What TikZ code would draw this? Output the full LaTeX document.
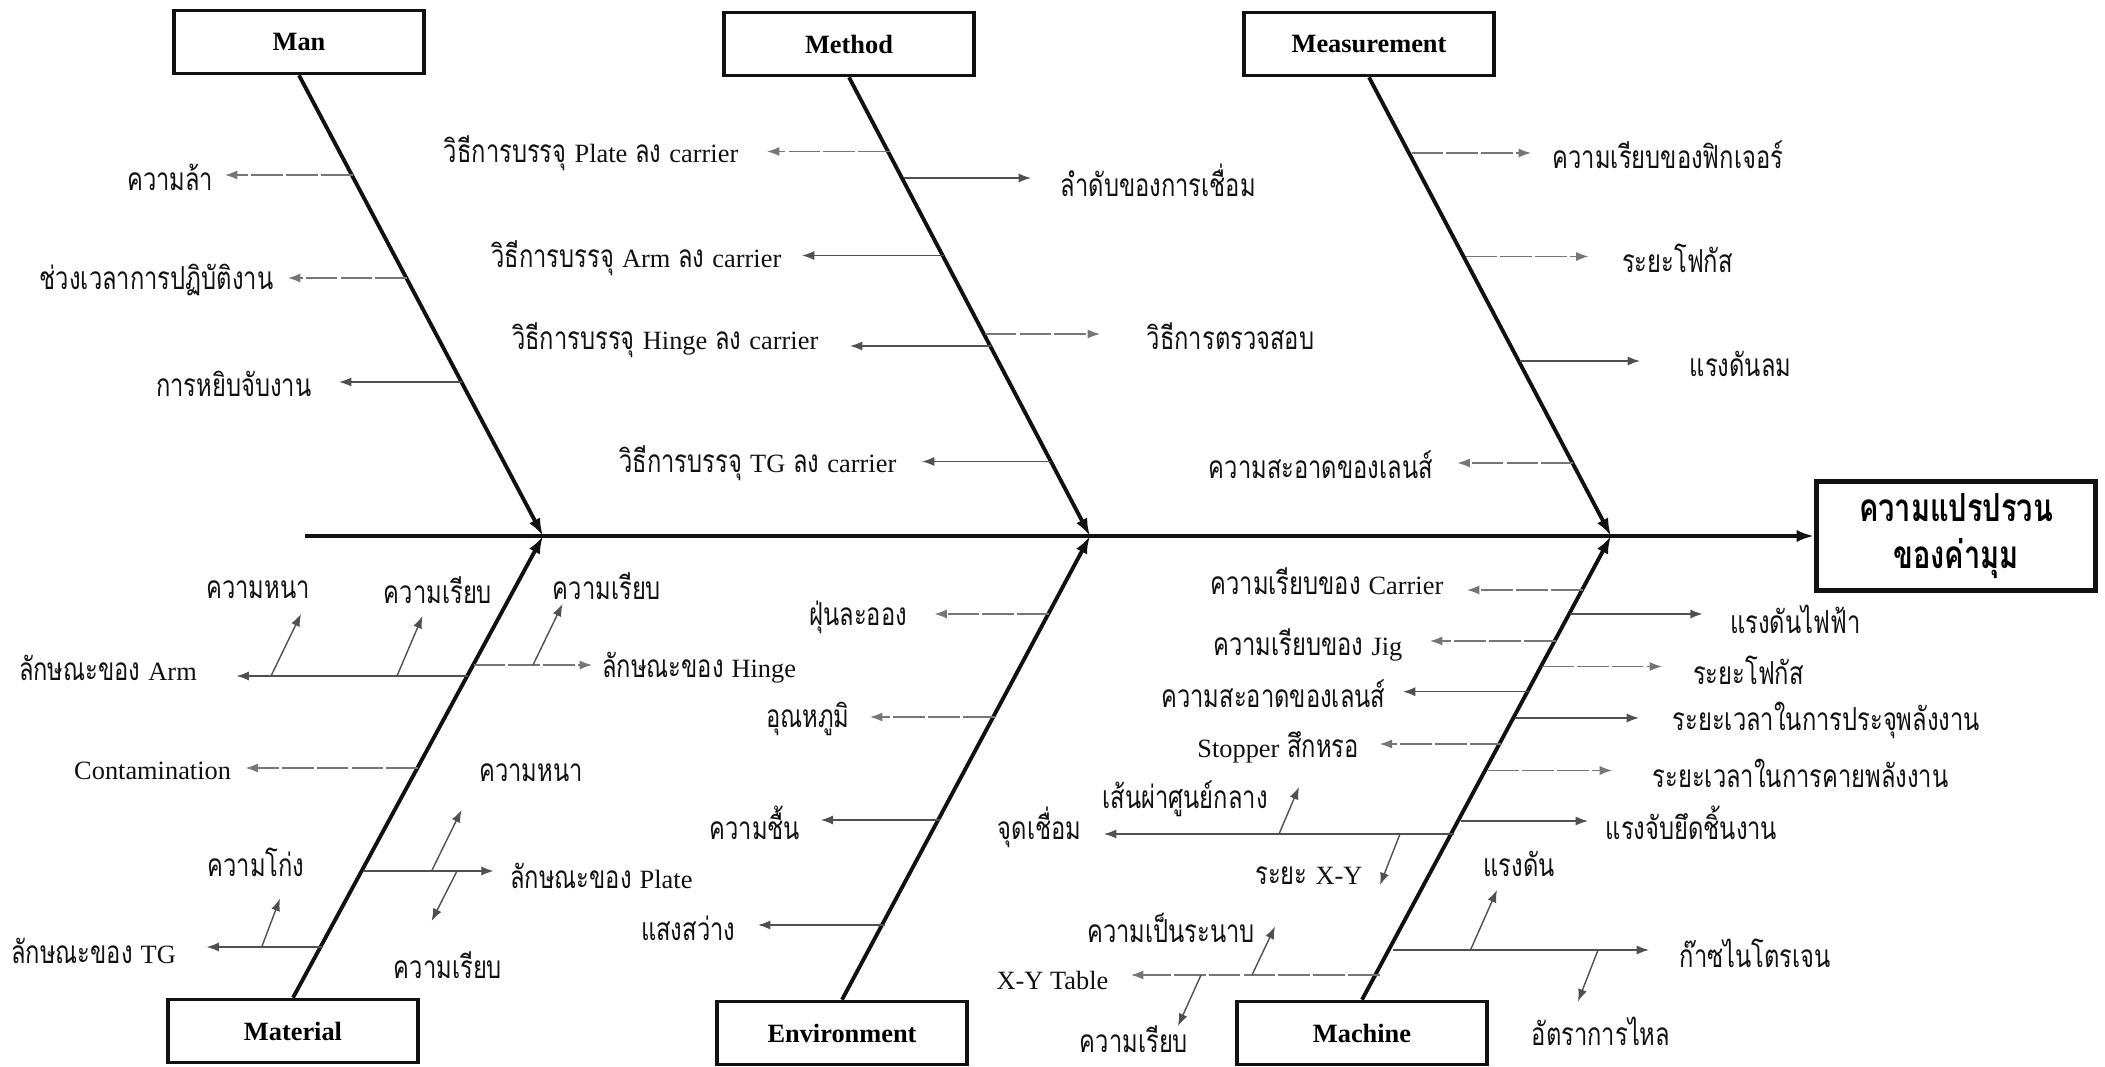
\documentclass[tikz,border=0pt]{standalone}
\usepackage{fontspec}
\setmainfont{Liberation Serif}
\newfontfamily\thaifont[Script=Thai,FakeStretch=0.75]{Loma}
\newcommand{\lat}[1]{{\rmfamily\fontsize{7.5}{9}\selectfont #1}}
\usetikzlibrary{arrows.meta}
\definecolor{ink}{HTML}{111111}
\definecolor{branchgray}{HTML}{505050}
\definecolor{paler}{HTML}{767676}

\begin{document}
\begin{tikzpicture}[x=0.01cm,y=-0.01cm,
    cat/.style={draw=ink,line width=1pt,minimum width=2.5cm,minimum height=0.63cm,
      font=\rmfamily\bfseries\fontsize{7.5}{9}\selectfont},
    bone/.style={ink,line width=1.1pt,-{Latex[length=5pt,width=3.5pt]}},
    twig/.style={branchgray,line width=0.4pt,-{Latex[length=3.5pt,width=2.6pt]}},
    faint/.style={paler,dash pattern=on 9pt off 0.9pt},
    lbl/.style={font=\thaifont\fontsize{9}{11}\selectfont,text=ink,inner sep=0pt},
    gap/.style={inner xsep=#1*0.2845pt}]
  \useasboundingbox (0,0) rectangle (2105,1067);

  \node[cat] (man) at (299,42) {Man};
  \node[cat] (method) at (849,44) {Method};
  \node[cat] (meas) at (1369,44) {Measurement};
  \node[cat] (mat) at (293,1031) {Material};
  \node[cat] (env) at (842,1033) {Environment};
  \node[cat] (mach) at (1362,1033) {Machine};
  \node[draw=ink,line width=1.3pt,minimum width=2.79cm,minimum height=1.08cm,align=center,
    font=\thaifont\bfseries\fontsize{11}{13.4}\selectfont] (effect) at (1956,536)
    {ความแปรปรวน\\ของค่ามุม};

  \coordinate (tail) at (305,536);
  \coordinate (j1) at (543,536);
  \coordinate (j2) at (1090,536);
  \coordinate (j3) at (1611,536);
  \draw[bone] (tail) -- (effect.west);
  \draw[bone] (man.south) -- (j1);
  \draw[bone] (method.south) -- (j2);
  \draw[bone] (meas.south) -- (j3);
  \draw[bone] (mat.north) -- (j1);
  \draw[bone] (env.north) -- (j2);
  \draw[bone] (mach.north) -- (j3);

  % Man
  \coordinate (a1) at (352.7,175);
  \coordinate (a2) at (407,278);
  \coordinate (a3) at (461.8,382);
  \node[lbl,gap=11,anchor=east] (fatigue) at (225,177) {ความล้า};
  \node[lbl,gap=14,anchor=east] (worktime) at (288,280) {ช่วงเวลาการปฏิบัติงาน};
  \node[lbl,gap=27,anchor=east] (handling) at (339,384) {การหยิบจับงาน};
  \draw[twig,faint] (a1) -- (fatigue.east |- a1);
  \draw[twig,faint] (a2) -- (worktime.east |- a2);
  \draw[twig] (a3) -- (handling.east |- a3);

  % Method
  \coordinate (b1) at (889.8,151.5);
  \coordinate (b2) at (903.6,178);
  \coordinate (b3) at (944,255.5);
  \coordinate (b4) at (984.8,334);
  \coordinate (b5) at (991,346);
  \coordinate (b6) at (1051,461.5);
  \node[lbl,gap=28,anchor=east] (loadplate) at (767,153) {วิธีการบรรจุ \lat{Plate} ลง \lat{carrier}};
  \node[lbl,gap=29,anchor=west] (weldorder) at (1031,180) {ลำดับของการเชื่อม};
  \node[lbl,gap=20,anchor=east] (loadarm) at (802,258) {วิธีการบรรจุ \lat{Arm} ลง \lat{carrier}};
  \node[lbl,gap=46,anchor=west] (inspect) at (1100,336) {วิธีการตรวจสอบ};
  \node[lbl,gap=31,anchor=east] (loadhinge) at (850,340) {วิธีการบรรจุ \lat{Hinge} ลง \lat{carrier}};
  \node[lbl,gap=25,anchor=east] (loadtg) at (922,463) {วิธีการบรรจุ \lat{TG} ลง \lat{carrier}};
  \draw[twig,faint] (b1) -- (loadplate.east |- b1);
  \draw[twig] (b2) -- (weldorder.west |- b2);
  \draw[twig] (b3) -- (loadarm.east |- b3);
  \draw[twig,faint] (b4) -- (inspect.west |- b4);
  \draw[twig] (b5) -- (loadhinge.east |- b5);
  \draw[twig] (b6) -- (loadtg.east |- b6);

  % Measurement
  \coordinate (c1) at (1411.6,153);
  \coordinate (c2) at (1465.5,256.5);
  \coordinate (c3) at (1519.9,361);
  \coordinate (c4) at (1573,463);
  \node[lbl,gap=21,anchor=west] (fixflat) at (1531,155) {ความเรียบของฟิกเจอร์};
  \node[lbl,gap=33,anchor=west] (focusa) at (1588.5,258) {ระยะโฟกัส};
  \node[lbl,gap=49,anchor=west] (airpress) at (1640,364) {แรงดันลม};
  \node[lbl,gap=24,anchor=east] (lensa) at (1457.5,465) {ความสะอาดของเลนส์};
  \draw[twig,faint] (c1) -- (fixflat.west |- c1);
  \draw[twig,faint] (c2) -- (focusa.west |- c2);
  \draw[twig] (c3) -- (airpress.west |- c3);
  \draw[twig,faint] (c4) -- (lensa.east |- c4);

  % Material
  \coordinate (d1) at (467.6,676);
  \coordinate (d2) at (473.5,665);
  \coordinate (d3) at (418,768);
  \coordinate (d4) at (362.5,871);
  \coordinate (d5) at (321.5,947);
  \coordinate (d1a) at (271,676);
  \coordinate (d1b) at (397,676);
  \coordinate (d2a) at (533,665);
  \coordinate (d4a) at (431.6,871);
  \coordinate (d4b) at (457,871);
  \coordinate (d5a) at (261.7,947);
  \coordinate (d1at) at (301,614);
  \coordinate (d1bt) at (422.5,616);
  \coordinate (d2at) at (562.5,604);
  \coordinate (d4at) at (461.5,810);
  \coordinate (d4bt) at (431.6,921);
  \coordinate (d5at) at (280,898.6);
  \node[lbl,gap=39,anchor=east] (arm) at (236.5,668) {ลักษณะของ \lat{Arm}};
  \node[lbl,gap=9.5,anchor=west] (hinge) at (592,668) {ลักษณะของ \lat{Hinge}};
  \node[lbl,gap=14,anchor=east] (contam) at (245.7,771) {\lat{Contamination}};
  \node[lbl,gap=16,anchor=west] (plate) at (493.6,876) {ลักษณะของ \lat{Plate}};
  \node[lbl,gap=30,anchor=east] (tg) at (206.6,951) {ลักษณะของ \lat{TG}};
  \node[lbl] (armthick) at (258,590) {ความหนา};
  \node[lbl] (armflat) at (438,590) {ความเรียบ};
  \node[lbl] (hingeflat) at (607,586) {ความเรียบ};
  \node[lbl] (platethick) at (531,773) {ความหนา};
  \node[lbl] (plateflat) at (448,965) {ความเรียบ};
  \node[lbl] (tgbend) at (256,862) {ความโก่ง};
  \draw[twig] (d1) -- (arm.east |- d1);
  \draw[twig,faint] (d2) -- (hinge.west |- d2);
  \draw[twig,faint] (d3) -- (contam.east |- d3);
  \draw[twig] (d4) -- (plate.west |- d4);
  \draw[twig] (d5) -- (tg.east |- d5);
  \draw[twig] (d1a) -- (d1at);
  \draw[twig] (d1b) -- (d1bt);
  \draw[twig] (d2a) -- (d2at);
  \draw[twig] (d4a) -- (d4at);
  \draw[twig] (d4b) -- (d4bt);
  \draw[twig] (d5a) -- (d5at);

  % Environment
  \coordinate (e1) at (1048.9,614);
  \coordinate (e2) at (994.6,717);
  \coordinate (e3) at (940.4,820);
  \coordinate (e4) at (885,925);
  \node[lbl,gap=27,anchor=east] (dust) at (934.6,617) {ฝุ่นละออง};
  \node[lbl,gap=20,anchor=east] (temp) at (870,719) {อุณหภูมิ};
  \node[lbl,gap=20,anchor=east] (humid) at (820.8,823) {ความชื้น};
  \node[lbl,gap=22,anchor=east] (light) at (758,928) {แสงสว่าง};
  \draw[twig,faint] (e1) -- (dust.east |- e1);
  \draw[twig,faint] (e2) -- (temp.east |- e2);
  \draw[twig] (e3) -- (humid.east |- e3);
  \draw[twig] (e4) -- (light.east |- e4);

  % Machine
  \coordinate (f1) at (1582.6,590);
  \coordinate (f2) at (1569.9,614);
  \coordinate (f3) at (1555.7,641);
  \coordinate (f4) at (1542.2,666.5);
  \coordinate (f5) at (1529,691.7);
  \coordinate (f6) at (1515,718);
  \coordinate (f7) at (1501.4,744);
  \coordinate (f8) at (1487.5,770.5);
  \coordinate (f9) at (1460.8,821);
  \coordinate (f10) at (1454,834);
  \coordinate (f11) at (1392.9,950);
  \coordinate (f12) at (1379.7,975);
  \coordinate (f10a) at (1279,834);
  \coordinate (f10b) at (1400,834);
  \coordinate (f11a) at (1470.5,950);
  \coordinate (f11b) at (1598,950);
  \coordinate (f12a) at (1252,975);
  \coordinate (f12b) at (1201,975);
  \coordinate (f10at) at (1299,787);
  \coordinate (f10bt) at (1380,885);
  \coordinate (f11at) at (1497,890);
  \coordinate (f11bt) at (1578,1001.5);
  \coordinate (f12at) at (1275,926.5);
  \coordinate (f12bt) at (1178,1026);
  \node[lbl,gap=23,anchor=east] (carrier) at (1467,581) {ความเรียบของ \lat{Carrier}};
  \node[lbl,gap=27,anchor=west] (volt) at (1702.6,619) {แรงดันไฟฟ้า};
  \node[lbl,gap=27,anchor=east] (jig) at (1430,645) {ความเรียบของ \lat{Jig}};
  \node[lbl,gap=30.5,anchor=west] (focusb) at (1662,670) {ระยะโฟกัส};
  \node[lbl,gap=17,anchor=east] (lensb) at (1403,694) {ความสะอาดของเลนส์};
  \node[lbl,gap=33,anchor=west] (charge) at (1639,720) {ระยะเวลาในการประจุพลังงาน};
  \node[lbl,gap=20,anchor=east] (stopper) at (1379.7,747) {\lat{Stopper} สึกหรอ};
  \node[lbl,gap=40,anchor=west] (discharge) at (1612,773) {ระยะเวลาในการคายพลังงาน};
  \node[lbl,gap=17,anchor=west] (clamp) at (1588,823) {แรงจับยึดชิ้นงาน};
  \node[lbl,gap=22,anchor=east] (weldpt) at (1104,827) {จุดเชื่อม};
  \node[lbl,gap=30,anchor=west] (nitro) at (1649,953) {ก๊าซไนโตรเจน};
  \node[lbl,gap=22,anchor=east] (xytable) at (1131,980) {\lat{X-Y Table}};
  \node[lbl] (diam) at (1185,799) {เส้นผ่าศูนย์กลาง};
  \node[lbl] (xydist) at (1309,876) {ระยะ \lat{X-Y}};
  \node[lbl] (gaspress) at (1519,864) {แรงดัน};
  \node[lbl] (flow) at (1601,1031) {อัตราการไหล};
  \node[lbl] (plane) at (1171,928) {ความเป็นระนาบ};
  \node[lbl] (tableflat) at (1134,1039) {ความเรียบ};
  \draw[twig,faint] (f1) -- (carrier.east |- f1);
  \draw[twig] (f2) -- (volt.west |- f2);
  \draw[twig,faint] (f3) -- (jig.east |- f3);
  \draw[twig,faint] (f4) -- (focusb.west |- f4);
  \draw[twig] (f5) -- (lensb.east |- f5);
  \draw[twig] (f6) -- (charge.west |- f6);
  \draw[twig,faint] (f7) -- (stopper.east |- f7);
  \draw[twig,faint] (f8) -- (discharge.west |- f8);
  \draw[twig] (f9) -- (clamp.west |- f9);
  \draw[twig] (f10) -- (weldpt.east |- f10);
  \draw[twig] (f11) -- (nitro.west |- f11);
  \draw[twig,faint] (f12) -- (xytable.east |- f12);
  \draw[twig] (f10a) -- (f10at);
  \draw[twig] (f10b) -- (f10bt);
  \draw[twig] (f11a) -- (f11at);
  \draw[twig] (f11b) -- (f11bt);
  \draw[twig] (f12a) -- (f12at);
  \draw[twig] (f12b) -- (f12bt);
\end{tikzpicture}
\end{document}
